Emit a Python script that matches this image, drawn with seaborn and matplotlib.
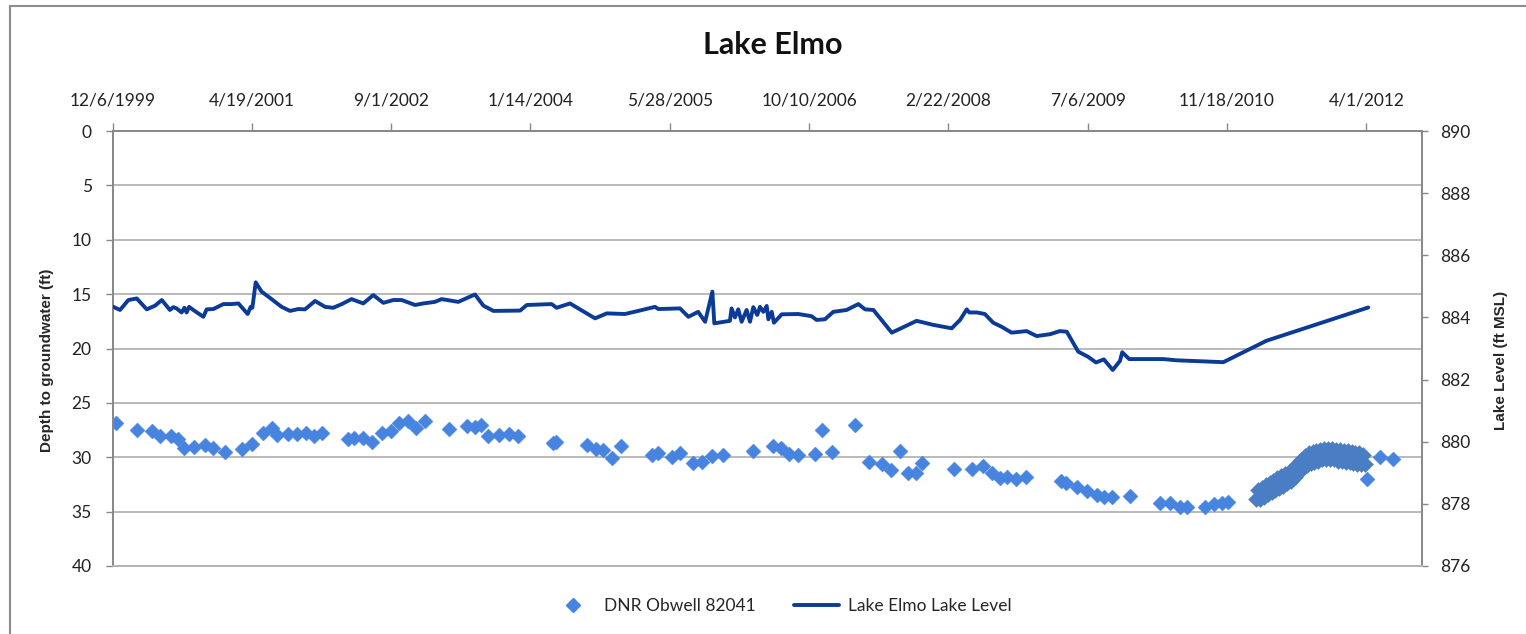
import matplotlib
matplotlib.use('Agg')
import matplotlib.pyplot as plt
from matplotlib.lines import Line2D
from matplotlib.ticker import FixedLocator, FuncFormatter
import matplotlib.dates as mdates
import pandas as pd
import seaborn as sns

# Lake Elmo - well depth vs lake level

# DNR Obwell 82041, manual readings
well_dates = [
    '1999-12-17', '2000-03-02', '2000-04-25', '2000-05-24', '2000-07-03', '2000-07-27', '2000-08-20', '2000-09-25', '2000-11-02', '2000-12-02',
    '2001-01-13', '2001-03-16', '2001-04-21', '2001-05-30', '2001-06-29', '2001-07-17', '2001-08-26', '2001-09-27', '2001-10-29', '2001-11-29', '2001-12-26',
    '2002-03-29', '2002-04-22', '2002-05-24', '2002-06-23', '2002-07-31', '2002-08-30', '2002-09-29', '2002-10-31', '2002-11-28',
    '2003-01-01', '2003-03-28', '2003-05-30', '2003-06-29', '2003-07-21', '2003-08-14', '2003-09-23', '2003-10-29', '2003-12-01',
    '2004-04-05', '2004-04-15', '2004-08-03', '2004-09-04', '2004-10-02', '2004-11-03', '2004-12-04',
    '2005-03-24', '2005-04-15', '2005-06-04', '2005-07-04', '2005-08-20', '2005-09-20', '2005-10-26', '2005-12-06',
    '2006-03-24', '2006-06-04', '2006-07-01', '2006-07-30', '2006-09-01', '2006-10-31', '2006-11-24', '2006-12-30',
    '2007-03-24', '2007-05-13', '2007-06-28', '2007-07-30', '2007-09-01', '2007-09-29', '2007-10-28', '2007-11-18',
    '2008-03-14', '2008-05-16', '2008-06-26', '2008-07-26', '2008-08-25', '2008-09-18', '2008-10-21', '2008-11-25',
    '2009-04-01', '2009-04-18', '2009-05-30', '2009-07-05', '2009-08-09', '2009-09-04', '2009-09-30', '2009-12-04',
    '2010-03-21', '2010-04-29', '2010-06-03', '2010-06-29', '2010-08-30', '2010-10-03', '2010-10-30', '2010-11-21',
    '2012-04-02', '2012-05-20', '2012-07-05',
]
well_depth = [
    26.82, 27.49, 27.56, 28.05, 28.05, 28.35, 29.12, 29.03, 28.87, 29.18,
    29.49, 29.27, 28.81, 27.74, 27.34, 27.95, 27.86, 27.86, 27.80, 28.05, 27.74,
    28.35, 28.20, 28.26, 28.57, 27.80, 27.56, 26.82, 26.64, 27.34,
    26.64, 27.43, 27.13, 27.25, 27.03, 28.05, 27.95, 27.86, 28.05,
    28.66, 28.57, 28.87, 29.27, 29.33, 30.10, 28.97,
    29.79, 29.64, 29.95, 29.64, 30.56, 30.41, 29.89, 29.79,
    29.40, 28.97, 29.18, 29.70, 29.79, 29.73, 27.49, 29.49,
    27.03, 30.47, 30.62, 31.17, 29.40, 31.42, 31.48, 30.56,
    31.11, 31.11, 30.80, 31.42, 31.88, 31.79, 32.00, 31.84,
    32.16, 32.40, 32.70, 33.07, 33.47, 33.63, 33.68, 33.56,
    34.24, 34.18, 34.55, 34.60, 34.60, 34.30, 34.18, 34.09,
    32.00, 30.00, 30.19,
]

# same well, logger period (weekly readings)
logger_dates = [
    '2011-03-02', '2011-03-09', '2011-03-16', '2011-03-23', '2011-03-30', '2011-04-06', '2011-04-13', '2011-04-20', '2011-04-27',
    '2011-05-04', '2011-05-11', '2011-05-18', '2011-05-25', '2011-06-01', '2011-06-08', '2011-06-15', '2011-06-22', '2011-06-29',
    '2011-07-06', '2011-07-13', '2011-07-20', '2011-07-27', '2011-08-03', '2011-08-10', '2011-08-17', '2011-08-24', '2011-08-31',
    '2011-09-07', '2011-09-14', '2011-09-21', '2011-09-28', '2011-10-05', '2011-10-12', '2011-10-19', '2011-10-26',
    '2011-11-02', '2011-11-09', '2011-11-16', '2011-11-23', '2011-11-30', '2011-12-07', '2011-12-14', '2011-12-21', '2011-12-28',
    '2012-01-04', '2012-01-11', '2012-01-18', '2012-01-25', '2012-02-01', '2012-02-08', '2012-02-15', '2012-02-22', '2012-02-29',
    '2012-03-07', '2012-03-14', '2012-03-21', '2012-03-28',
]
logger_depth = [
    33.8, 33.05, 33.8, 32.85, 33.65, 32.55, 33.4, 32.35, 33.2,
    32.15, 33.0, 31.95, 32.8, 31.75, 32.6, 31.55, 32.4, 31.35,
    32.15, 31.05, 31.8, 30.65, 31.4, 30.25, 31.0, 29.9, 30.7,
    29.65, 30.5, 29.5, 30.4, 29.4, 30.3, 29.3, 30.2,
    29.25, 30.15, 29.2, 30.2, 29.25, 30.2, 29.3, 30.3, 29.35,
    30.35, 29.4, 30.4, 29.45, 30.45, 29.55, 30.5, 29.6, 30.6,
    29.65, 30.65, 29.75, 30.6,
]

# Lake Elmo lake level (ft MSL)
lake_dates = [
    '1999-12-09', '2000-01-02', '2000-02-01', '2000-03-02', '2000-04-07', '2000-05-07', '2000-05-31', '2000-06-29', '2000-07-11',
    '2000-07-23', '2000-08-10', '2000-08-20', '2000-08-28', '2000-09-06', '2000-09-21', '2000-10-27', '2000-11-08', '2000-12-02',
    '2001-01-07', '2001-02-06', '2001-03-02', '2001-04-04', '2001-04-15', '2001-04-21', '2001-05-03', '2001-05-24', '2001-06-23',
    '2001-08-04', '2001-09-03', '2001-10-03', '2001-10-27', '2001-12-02',
    '2002-01-07', '2002-02-05', '2002-03-08', '2002-04-12', '2002-05-24', '2002-06-29', '2002-08-04', '2002-09-09', '2002-10-09',
    '2002-11-26', '2002-12-25',
    '2003-02-05', '2003-03-01', '2003-04-30', '2003-06-29', '2003-07-29', '2003-09-03', '2003-12-08',
    '2004-01-01', '2004-03-30', '2004-04-17', '2004-06-04', '2004-09-02', '2004-10-14', '2004-12-18',
    '2005-02-04', '2005-04-05', '2005-04-17', '2005-07-04', '2005-08-03', '2005-09-07', '2005-10-02', '2005-10-28', '2005-11-04',
    '2005-12-30',
    '2006-01-05', '2006-01-17', '2006-01-29', '2006-02-10', '2006-02-28', '2006-03-12', '2006-03-24', '2006-04-07', '2006-04-17',
    '2006-04-29', '2006-05-11', '2006-05-17', '2006-05-29', '2006-06-06', '2006-07-04', '2006-09-01', '2006-10-19', '2006-11-06',
    '2006-12-06',
    '2007-01-05', '2007-02-22', '2007-04-05', '2007-04-29', '2007-05-29', '2007-08-03', '2007-10-31', '2007-12-30',
    '2008-03-05', '2008-04-04', '2008-04-28', '2008-05-07', '2008-06-03', '2008-07-02', '2008-08-01', '2008-08-31', '2008-10-06',
    '2008-11-29',
    '2009-01-04', '2009-02-21', '2009-03-28', '2009-04-22', '2009-06-02', '2009-07-08', '2009-08-05', '2009-09-02', '2009-10-04',
    '2009-10-30', '2009-11-07', '2009-12-02',
    '2010-04-03', '2010-05-21', '2010-11-05', '2011-04-09', '2012-04-08',
]
lake_level = [
    884.34, 884.24, 884.56, 884.61, 884.26, 884.38, 884.56, 884.24, 884.33,
    884.29, 884.16, 884.31, 884.16, 884.34, 884.24, 884.02, 884.26, 884.27,
    884.43, 884.43, 884.45, 884.11, 884.34, 884.31, 885.13, 884.83, 884.63,
    884.34, 884.21, 884.27, 884.26, 884.53,
    884.34, 884.31, 884.43, 884.59, 884.45, 884.72, 884.47, 884.56, 884.56,
    884.40, 884.45,
    884.50, 884.59, 884.50, 884.74, 884.38, 884.21, 884.22,
    884.40, 884.43, 884.31, 884.45, 883.97, 884.13, 884.11,
    884.21, 884.34, 884.27, 884.29, 884.02, 884.18, 883.86, 884.83, 883.81,
    883.89,
    884.29, 884.00, 884.26, 883.86, 884.24, 883.86, 884.33, 884.08, 884.34,
    884.18, 884.37, 883.94, 884.18, 883.83, 884.10, 884.11, 884.04, 883.92,
    883.94,
    884.18, 884.24, 884.43, 884.26, 884.24, 883.51, 883.89, 883.76,
    883.65, 883.92, 884.26, 884.16, 884.16, 884.11, 883.83, 883.70, 883.51,
    883.56,
    883.40, 883.46, 883.56, 883.54, 882.90, 882.73, 882.55, 882.65, 882.31,
    882.60, 882.88, 882.66,
    882.66, 882.62, 882.56, 883.25, 884.32,
]

# Excel-style date axis: 12/6/1999 (serial 36500) + 500 day steps
x_ticks = ['1999-12-06', '2001-04-19', '2002-09-01', '2004-01-14', '2005-05-28',
           '2006-10-10', '2008-02-22', '2009-07-06', '2010-11-18', '2012-04-01']
x_max = '2012-10-18'
depth_ticks = [0, 5, 10, 15, 20, 25, 30, 35, 40]
level_ticks = [876, 878, 880, 882, 884, 886, 888, 890]

WELL_BLUE = '#4784e0'
LOGGER_BLUE = '#4a7ec4'
LAKE_BLUE = '#0b3b96'
AXIS_GRAY = '#878787'
GRID_GRAY = '#b4b4b4'

sns.set_style('white')
plt.rcParams['font.family'] = ['Lato', 'DejaVu Sans']

well = pd.DataFrame({'date': pd.to_datetime(well_dates), 'depth': well_depth})
logger = pd.DataFrame({'date': pd.to_datetime(logger_dates), 'depth': logger_depth})
lake = pd.DataFrame({'date': pd.to_datetime(lake_dates), 'level': lake_level})

W, H = 1526, 634
fig = plt.figure(figsize=(W / 100, H / 100), dpi=100)
ax = fig.add_axes([112.5 / W, 1 - 566 / H, (1422 - 112.5) / W, (566 - 131) / H])
ax2 = ax.twinx()

sns.scatterplot(data=well, x='date', y='depth', marker='D', s=58, color=WELL_BLUE,
                edgecolor=WELL_BLUE, linewidth=0.3, ax=ax, zorder=3)
sns.scatterplot(data=logger, x='date', y='depth', marker='D', s=66, color=LOGGER_BLUE,
                edgecolor=LOGGER_BLUE, linewidth=0.3, ax=ax, zorder=3)
sns.lineplot(data=lake, x='date', y='level', color=LAKE_BLUE, linewidth=2.8,
             estimator=None, ax=ax2, zorder=3)

# left axis: depth, inverted
ax.set_xlim(pd.Timestamp(x_ticks[0]), pd.Timestamp(x_max))
ax.set_ylim(40, 0)
ax.yaxis.set_major_locator(FixedLocator(depth_ticks))
ax.yaxis.grid(True, color=GRID_GRAY, linewidth=1.3)
ax.xaxis.grid(False)
ax.set_xlabel('')
ax.set_ylabel('')

# date ticks on top
ax.xaxis.tick_top()
ax.xaxis.set_major_locator(FixedLocator(mdates.date2num(pd.to_datetime(x_ticks))))
ax.xaxis.set_major_formatter(FuncFormatter(
    lambda v, p: '{d.month}/{d.day}/{d.year}'.format(d=mdates.num2date(v))))
ax.tick_params(axis='x', which='both', top=True, bottom=False, direction='out', length=6,
               width=1, color=AXIS_GRAY, labelsize=12.5, pad=10, labelcolor='#222222')
ax.tick_params(axis='y', left=True, direction='out', length=5, width=1, color=AXIS_GRAY,
               labelsize=12.5, pad=10, labelcolor='#222222')

# right axis: lake level
ax2.set_ylim(876, 890)
ax2.yaxis.set_major_locator(FixedLocator(level_ticks))
ax2.set_ylabel('')
ax2.grid(False)
ax2.tick_params(axis='y', right=True, direction='out', length=4, width=1, color=AXIS_GRAY,
                labelsize=12.5, pad=9, labelcolor='#222222')

for a in (ax, ax2):
    for side in ('left', 'top', 'right'):
        a.spines[side].set_color(AXIS_GRAY)
        a.spines[side].set_linewidth(1.2)
    a.spines['bottom'].set_color(GRID_GRAY)
    a.spines['bottom'].set_linewidth(1.3)

# titles and axis labels
fig.text(772.5 / W, 1 - 54 / H, 'Lake Elmo', ha='center', va='baseline',
         fontsize=22, fontweight='bold', color='#111111')
fig.text(47 / W, 1 - 360 / H, 'Depth to groundwater (ft)', rotation=90, ha='center', va='center',
         fontsize=11, fontweight='bold', family=['Liberation Sans', 'DejaVu Sans'])
fig.text(1501 / W, 1 - 360 / H, 'Lake Level (ft MSL)', rotation=90, ha='center', va='center',
         fontsize=11, fontweight='bold', family=['Liberation Sans', 'DejaVu Sans'])

# legend along the bottom
handles = [
    Line2D([], [], marker='D', linestyle='none', markersize=7.5, color=WELL_BLUE),
    Line2D([], [], color=LAKE_BLUE, linewidth=2.8),
]
fig.legend(handles, ['DNR Obwell 82041', 'Lake Elmo Lake Level'], loc='center',
           bbox_to_anchor=(781 / W, 1 - 606 / H), ncol=2, frameon=False, fontsize=12.5,
           handlelength=2.6, columnspacing=2.2, handletextpad=0.5)

# chart area border (left and top edges visible)
fig.add_artist(Line2D([10 / W, 10 / W], [0, 1 - 6 / H], transform=fig.transFigure,
                      color='#8c8c8c', linewidth=1.5))
fig.add_artist(Line2D([10 / W, 1], [1 - 6 / H, 1 - 6 / H], transform=fig.transFigure,
                      color='#8c8c8c', linewidth=1.5))

fig.savefig('out.png', dpi=100)
